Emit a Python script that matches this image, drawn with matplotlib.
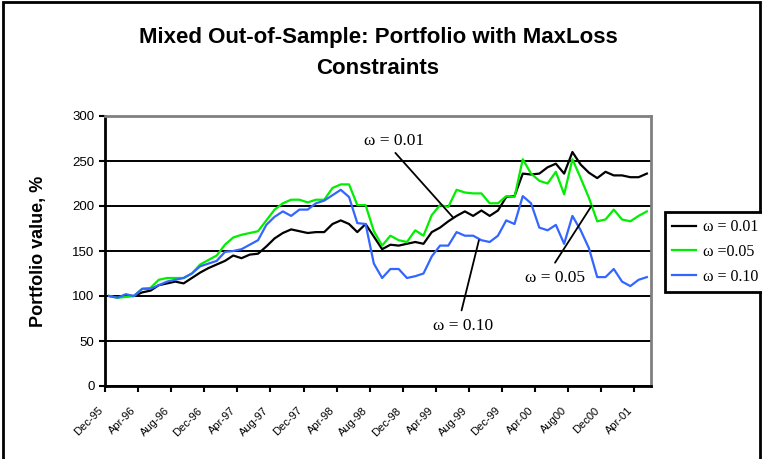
import matplotlib
matplotlib.use('Agg')
import matplotlib.pyplot as plt
from matplotlib.patches import Rectangle
import numpy as np

# monthly portfolio values, Dec-95 .. May-01 (66 months)
w001 = [100, 99, 100, 100, 104, 106, 112, 114, 116, 114, 120, 126, 131, 135, 139, 145, 142, 146, 147, 155, 164, 170, 174, 172, 170, 171, 171,
        180, 184, 180, 171, 180, 166, 152, 157, 156, 158, 160, 158,
        171, 176, 183, 189, 194, 189, 195, 189, 195, 210, 211, 236, 235,
        236, 243, 247, 236, 260, 246, 237, 231, 238, 234, 234, 232, 232, 236]
w005 = [100, 98, 99, 100, 108, 109, 118, 120, 120, 120, 125, 135, 140, 145, 157, 165, 168, 170, 172, 184, 196, 203, 207, 207, 204, 207, 207,
        220, 224, 224, 201, 201, 172, 156, 167, 162, 160, 173, 167,
        190, 201, 199, 218, 215, 214, 214, 203, 203, 211, 210, 252, 236,
        228, 225, 238, 213, 252, 231, 209, 183, 185, 196, 185, 183, 189, 194]
w010 = [100, 98, 102, 100, 108, 108, 112, 116, 118, 120, 125, 133, 136, 139, 149, 150, 152, 157, 162, 179, 188, 194, 189, 196, 196, 203, 206,
        212, 218, 210, 181, 180, 136, 120, 130, 130, 120, 122, 125,
        144, 156, 156, 171, 167, 167, 162, 160, 167, 184, 180, 211, 203,
        176, 173, 179, 158, 189, 173, 153, 121, 121, 130, 116, 111, 118, 121]

tick_labels = ['Dec-95', 'Apr-96', 'Aug-96', 'Dec-96', 'Apr-97', 'Aug-97', 'Dec-97', 'Apr-98',
               'Aug-98', 'Dec-98', 'Apr-99', 'Aug-99', 'Dec-99', 'Apr-00', 'Aug00', 'Dec00', 'Apr-01']

sans = ['Liberation Sans', 'DejaVu Sans']
serif = ['Liberation Serif', 'DejaVu Serif']

fig = plt.figure(figsize=(7.62, 4.59), dpi=100)
ax = fig.add_axes([105/762, 73/459, 546/762, 270/459])

x = np.arange(len(w001))
ax.plot(x, w001, color='black', lw=1.6, label='ω = 0.01')
ax.plot(x, w005, color='#00ee00', lw=1.6, label='ω =0.05')
ax.plot(x, w010, color='#3366ff', lw=1.6, label='ω = 0.10')

ax.set_xlim(-0.5, len(x) - 0.5)
ax.set_ylim(0, 300)
ax.set_yticks(range(0, 301, 50))
ax.yaxis.grid(True, color='black', lw=1.4)
ax.set_axisbelow(True)

ax.set_xticks(np.arange(0, len(x), 4) - 0.5)
ax.set_xticklabels(tick_labels, rotation=45, ha='right', fontsize=8, family=sans)
ax.tick_params(axis='x', direction='out', length=4, width=1.5, pad=10)
ax.tick_params(axis='y', direction='out', length=4, width=1.5, labelsize=9.5)
for lab in ax.get_yticklabels():
    lab.set_family(sans)

for s in ['left', 'bottom']:
    ax.spines[s].set_linewidth(2)
    ax.spines[s].set_color('black')
for s in ['top', 'right']:
    ax.spines[s].set_linewidth(2)
    ax.spines[s].set_color('#808080')

ax.set_ylabel('Portfolio value, %', fontsize=13, weight='bold', family=sans)
ax.yaxis.set_label_coords((47 - 105) / 546, 0.5)

# callouts
arrow = dict(arrowstyle='-', color='black', lw=1.3, shrinkA=0, shrinkB=0)
ax.annotate('', xy=(41.6, 187), xytext=(34.6, 259), arrowprops=arrow)
ax.text(34.4, 272, 'ω = 0.01', ha='center', va='center', fontsize=12.5, family=serif)
ax.annotate('', xy=(44.7, 162), xytext=(42.6, 84), arrowprops=arrow)
ax.text(42.8, 67, 'ω = 0.10', ha='center', va='center', fontsize=12.5, family=serif)
ax.annotate('', xy=(58.3, 200), xytext=(53.9, 137), arrowprops=arrow)
ax.text(53.9, 120, 'ω = 0.05', ha='center', va='center', fontsize=12.5, family=serif)

leg = fig.legend(loc='upper left', bbox_to_anchor=(665/762, 1 - 212/459), borderaxespad=0,
                 prop={'family': serif, 'size': 11.5}, handlelength=1.5, handletextpad=0.4,
                 labelspacing=0.55, borderpad=0.45, fancybox=False, framealpha=1)
leg.get_frame().set_edgecolor('black')
leg.get_frame().set_linewidth(2)

fig.text(378/762, 1 - 37/459, 'Mixed Out-of-Sample: Portfolio with MaxLoss',
         ha='center', va='center', fontsize=16, weight='bold', family=sans)
fig.text(378/762, 1 - 68/459, 'Constraints',
         ha='center', va='center', fontsize=16, weight='bold', family=sans)

fig.patches.append(Rectangle((2.5/762, -0.02), 757/762, 1.02 - 2.5/459, transform=fig.transFigure,
                             fill=False, lw=2, ec='black'))

fig.savefig('out.png', dpi=100)
